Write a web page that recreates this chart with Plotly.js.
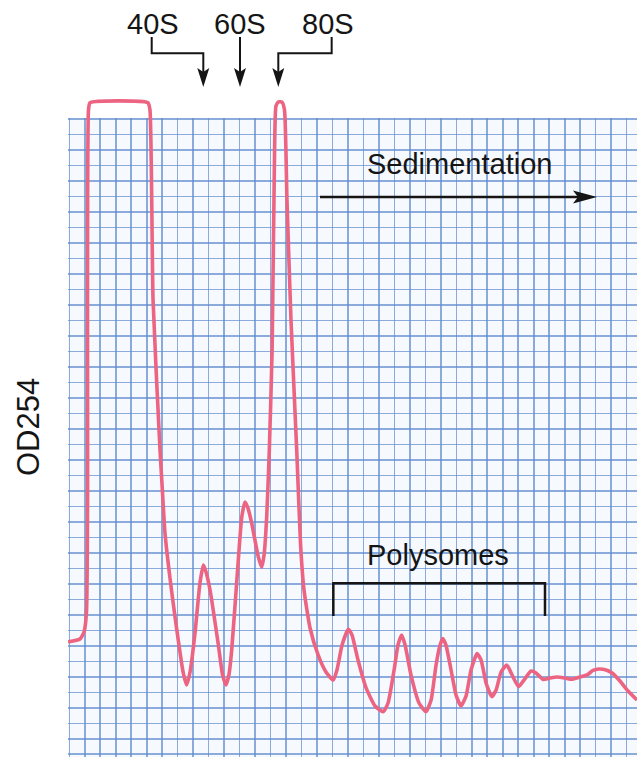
<!DOCTYPE html>
<html>
<head>
<meta charset="utf-8">
<script src="https://cdn.plot.ly/plotly-3.0.1.min.js"></script>
<style>html,body{margin:0;padding:0;background:#fff;}#chart{width:637px;height:757px;}</style>
</head>
<body>
<div id="chart"></div>
<script>
// Sedimentation position (grid cells) and OD254 (grid cells)
const position = [-0.08,0.69,0.95,1.11,1.18,1.24,1.34,5.08,5.21,5.41,5.86,6.02,6.18,6.50,6.83,7.35,7.58,7.80,8.12,8.44,8.66,8.83,9.09,9.61,9.90,10.12,10.31,10.49,10.81,11.14,11.35,11.54,11.78,12.21,12.43,12.58,12.75,12.92,13.10,13.26,13.35,13.51,13.74,13.90,14.06,14.32,14.69,14.94,15.16,15.55,16.07,16.58,17.05,17.29,17.62,18.02,18.26,18.65,19.17,19.75,20.28,20.59,20.98,21.23,21.47,21.69,22.07,22.59,23.04,23.37,23.69,23.95,24.12,24.33,24.66,24.98,25.30,25.63,25.95,26.34,26.60,26.92,27.29,27.57,27.89,28.26,28.60,29.02,29.37,29.83,30.15,30.60,31.05,31.51,32.02,32.47,32.99,33.44,33.83,34.22,34.67,35.06,35.57,36.09,36.67];
const od254 = [7.25,7.44,7.89,9.18,16.41,41.57,42.04,42.04,41.57,29.31,19.63,16.90,14.28,11.40,8.86,5.31,4.47,5.31,7.83,11.05,12.21,11.76,10.60,7.18,5.12,4.47,5.12,6.73,11.05,15.31,16.28,15.89,14.92,12.73,12.08,12.86,15.31,19.63,26.08,38.99,41.83,42.10,42.08,41.57,35.76,28.02,19.63,13.50,10.60,8.15,6.41,5.31,4.79,5.44,7.05,8.06,7.70,6.08,4.28,3.12,2.75,3.31,5.44,7.05,7.70,7.05,5.12,3.31,2.75,3.50,5.76,7.05,7.47,7.05,5.44,3.83,3.12,3.77,5.44,6.50,6.08,4.60,3.72,4.15,5.31,5.76,5.12,4.37,4.79,5.37,5.25,4.83,4.92,4.99,4.92,4.84,4.99,5.12,5.41,5.50,5.44,5.25,4.73,4.08,3.50];

const peakLabels = ["40S","60S","80S"];
const directionLabel = "Sedimentation";
const polysomeLabel = "Polysomes";
const yLabel = "OD254";

// pixel -> paper helpers for decorations
const L = 68, T = 95, W = 569, H = 662;
const px = x => (x - L) / W;
const py = y => (T + H - y) / H;
const P = (x, y) => px(x).toFixed(4) + ',' + py(y).toFixed(4);

const FONT = {family: 'Liberation Sans, Arial, sans-serif', size: 29, color: '#151515'};
const lineStyle = {color: '#151515', width: 2};

function tri(tipX, tipY, dir, len, half) {
  if (dir === 'down') return 'M' + P(tipX, tipY) + ' L' + P(tipX - half, tipY - len) + ' L' + P(tipX, tipY - len + 4) + ' L' + P(tipX + half, tipY - len) + ' Z';
  return 'M' + P(tipX, tipY) + ' L' + P(tipX - len, tipY - half) + ' L' + P(tipX - len + 5, tipY) + ' L' + P(tipX - len, tipY + half) + ' Z';
}

const shapes = [
  {type: 'rect', xref: 'x', yref: 'y', x0: -2, x1: 40, y0: 41.06, y1: 44, fillcolor: '#ffffff', line: {width: 0}, layer: 'between'},
  {type: 'path', xref: 'paper', yref: 'paper', path: 'M' + P(151.7, 37) + ' L' + P(151.7, 53.3) + ' L' + P(203.3, 53.3) + ' L' + P(203.3, 72), line: lineStyle},
  {type: 'path', xref: 'paper', yref: 'paper', fillcolor: '#151515', line: {width: 0}, path: tri(203.3, 87, 'down', 19, 6)},
  {type: 'path', xref: 'paper', yref: 'paper', path: 'M' + P(240, 37) + ' L' + P(240, 72), line: lineStyle},
  {type: 'path', xref: 'paper', yref: 'paper', fillcolor: '#151515', line: {width: 0}, path: tri(240, 87, 'down', 19, 6)},
  {type: 'path', xref: 'paper', yref: 'paper', path: 'M' + P(331.7, 37) + ' L' + P(331.7, 53.3) + ' L' + P(278.3, 53.3) + ' L' + P(278.3, 72), line: lineStyle},
  {type: 'path', xref: 'paper', yref: 'paper', fillcolor: '#151515', line: {width: 0}, path: tri(278.3, 87, 'down', 19, 6)},
  {type: 'path', xref: 'paper', yref: 'paper', path: 'M' + P(320, 197) + ' L' + P(582, 197), line: {color: '#151515', width: 2.5}},
  {type: 'path', xref: 'paper', yref: 'paper', fillcolor: '#151515', line: {width: 0}, path: tri(597, 197, 'right', 24, 6.5)},
  {type: 'path', xref: 'paper', yref: 'paper', path: 'M' + P(333.3, 616) + ' L' + P(333.3, 583.3) + ' L' + P(545, 583.3) + ' L' + P(545, 616), line: {color: '#151515', width: 2.5}}
];

const annotations = [
  {text: peakLabels[0], x: px(152.5), y: py(24), xref: 'paper', yref: 'paper', showarrow: false, font: FONT, xanchor: 'center', yanchor: 'middle'},
  {text: peakLabels[1], x: px(240), y: py(24), xref: 'paper', yref: 'paper', showarrow: false, font: FONT, xanchor: 'center', yanchor: 'middle'},
  {text: peakLabels[2], x: px(328), y: py(24), xref: 'paper', yref: 'paper', showarrow: false, font: FONT, xanchor: 'center', yanchor: 'middle'},
  {text: directionLabel, x: px(459), y: py(164), xref: 'paper', yref: 'paper', showarrow: false, font: FONT, xanchor: 'center', yanchor: 'middle'},
  {text: polysomeLabel, x: px(437.5), y: py(555), xref: 'paper', yref: 'paper', showarrow: false, font: FONT, xanchor: 'center', yanchor: 'middle'},
  {text: yLabel, x: px(28), y: py(427), xref: 'paper', yref: 'paper', showarrow: false, font: Object.assign({}, FONT, {size: 31}), textangle: -90, xanchor: 'center', yanchor: 'middle'}
];

const trace = {
  x: position, y: od254, type: 'scatter', mode: 'lines',
  line: {color: '#ec6482', width: 3.6, shape: 'spline', smoothing: 0.5},
  hoverinfo: 'skip'
};

const gridAxis = {
  dtick: 1, tick0: 0, showgrid: true, gridcolor: 'rgba(95,140,205,0.72)', gridwidth: 1.6,
  showticklabels: false, ticks: '', zeroline: false, showline: false, fixedrange: true
};

const layout = {
  width: 637, height: 757,
  margin: {l: L, r: 0, t: T, b: 0, pad: 0},
  paper_bgcolor: '#ffffff', plot_bgcolor: '#f6f9fe',
  showlegend: false,
  xaxis: Object.assign({range: [-0.084, 36.67]}, gridAxis),
  yaxis: Object.assign({range: [-0.174, 42.54]}, gridAxis),
  shapes: shapes, annotations: annotations
};

Plotly.newPlot('chart', [trace], layout, {displayModeBar: false, staticPlot: true});
</script>
</body>
</html>
